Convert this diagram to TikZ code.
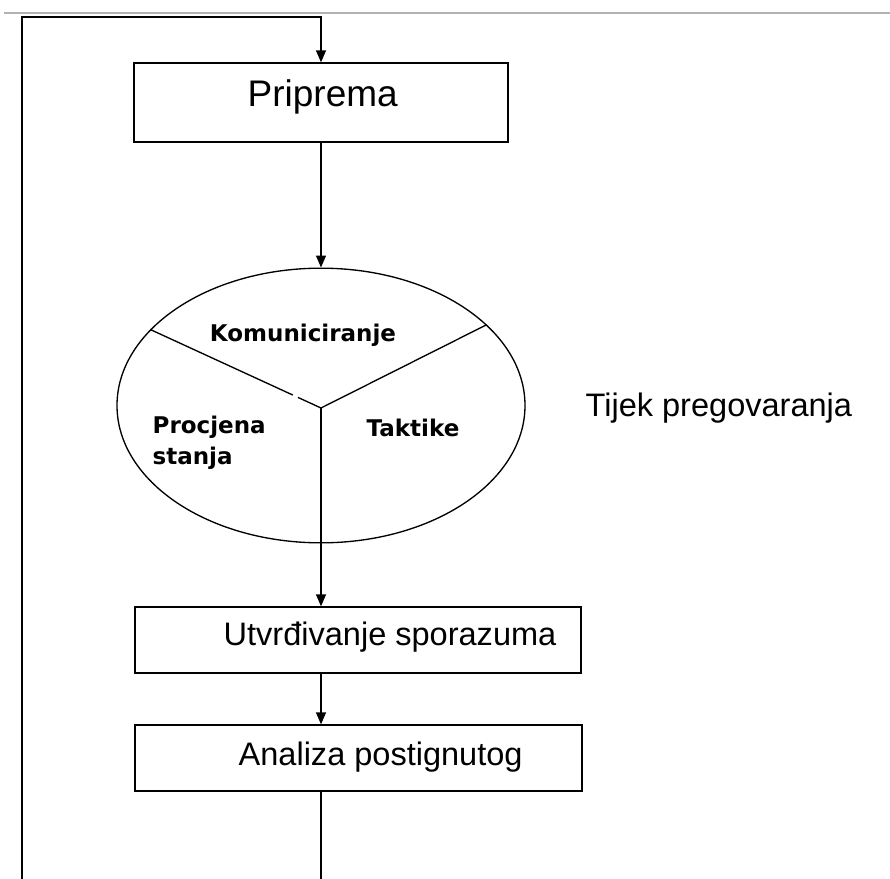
\documentclass[tikz,border=0pt]{standalone}
\usepackage{fontspec}
\setmainfont{Liberation Sans}
\newfontfamily\dejavu{DejaVu Sans}
\usetikzlibrary{shapes.geometric, arrows.meta, calc}

\begin{document}
\begin{tikzpicture}[
         x=0.75pt, y=-0.75pt,
         line width=1pt,
         pijl/.style={-{Triangle[length=9pt, width=7.5pt]}},
         okvir/.style={rectangle, draw, inner sep=0pt},
         tekst/.style={font=\fontsize{24.4}{29}\selectfont, anchor=base west, inner sep=0pt},
         dio/.style={font=\dejavu\bfseries\fontsize{17.25}{23.25}\selectfont, inner sep=0pt}
      ]
         \useasboundingbox (0,0) rectangle (890,879);

         % Boxes and the ellipse
         \node[okvir, minimum width=280.5pt, minimum height=59.25pt] (priprema) at (321,102.5) {};
         \node[ellipse, draw, inner sep=0pt, minimum width=306pt, minimum height=206pt] (krug) at (321,405.5) {};
         \node[okvir, minimum width=334.5pt, minimum height=49.5pt] (utvrdivanje) at (358,640) {};
         \node[okvir, minimum width=335.25pt, minimum height=49.5pt] (analiza) at (358.5,758) {};
         \coordinate (sredina) at (321,408);
         \coordinate (dno) at (321,879);
         \coordinate (lijevoDolje) at (22,879);
         \coordinate (lijevoGore) at (22,17);

         % Texts
         \node[tekst, font=\fontsize{27.75}{33}\selectfont] (pripremaT) at (247,106.7) {Priprema};
         \node[tekst] (utvrdivanjeT) at (223,645) {Utvrđivanje sporazuma};
         \node[tekst] (analizaT) at (238,765) {Analiza postignutog};
         \node[tekst] (tijek) at (585,416.5) {Tijek pregovaranja};
         \node[dio, anchor=base] (komuniciranje) at (303,341.5) {Komuniciranje};
         \node[dio, anchor=base] (taktike) at (413,436.7) {Taktike};
         \node[dio, anchor=west, align=left] (procjena) at (152,442.5) {Procjena\\stanja};

         % Dividers inside the ellipse
         \draw (krug.156.6) -- ($(krug.156.6)!0.835!(sredina)$);
         \draw ($(krug.156.6)!0.865!(sredina)$) -- (sredina);
         \draw (krug.26.3) -- (sredina);

         % Flow
         \draw[pijl] (priprema.south) -- (krug.north);
         \draw[pijl] (sredina) -- (sredina |- utvrdivanje.north);
         \draw[pijl] (utvrdivanje.south -| sredina) -- (analiza.north -| sredina);
         \draw (analiza.south -| sredina) -- (dno);
         \draw[pijl] (lijevoDolje) -- (lijevoGore) -| (priprema.north);

         % Top edge
         \draw[gray!60, line width=1.5pt] (4,12.5) -- (890,12.5);
      \end{tikzpicture}
\end{document}
